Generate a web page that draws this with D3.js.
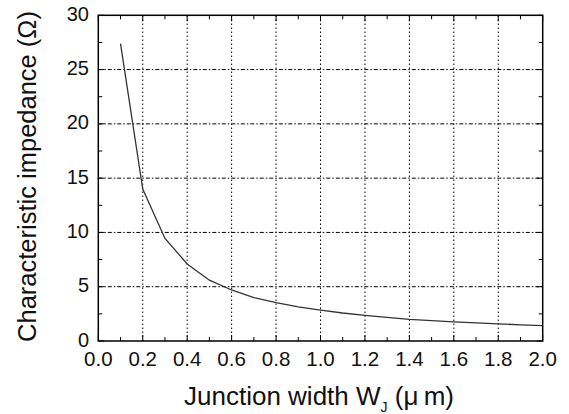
<!DOCTYPE html>
<html>
<head>
<meta charset="utf-8">
<script src="https://cdn.jsdelivr.net/npm/d3@7"></script>
<style>
  body { margin: 0; background: #fff; }
  svg { display: block; font-family: "Liberation Sans", Arial, sans-serif; }
</style>
</head>
<body>
<svg id="chart" width="569" height="414"></svg>
<script>
// junction width (um) and characteristic impedance (ohm)
const widths = [0.1, 0.2, 0.3, 0.4, 0.5, 0.6, 0.7, 0.8, 0.9, 1.0,
                1.1, 1.2, 1.3, 1.4, 1.5, 1.6, 1.7, 1.8, 1.9, 2.0];
const impedance = [27.4, 14.0, 9.45, 7.1, 5.6, 4.7, 4.0, 3.53, 3.15, 2.85,
                   2.58, 2.36, 2.17, 2.0, 1.88, 1.77, 1.67, 1.58, 1.49, 1.42];
const xTicks = [0.0, 0.2, 0.4, 0.6, 0.8, 1.0, 1.2, 1.4, 1.6, 1.8, 2.0];
const yTicks = [0, 5, 10, 15, 20, 25, 30];
const xMinor = [0.1, 0.3, 0.5, 0.7, 0.9, 1.1, 1.3, 1.5, 1.7, 1.9];
const yMinor = [2.5, 7.5, 12.5, 17.5, 22.5, 27.5];

const svg = d3.select("#chart");
const margin = {top: 15.3, right: 26.3, bottom: 73, left: 98.3};
const width = 569, height = 414;

const x = d3.scaleLinear().domain([0, 2]).range([margin.left, width - margin.right]);
const y = d3.scaleLinear().domain([0, 30]).range([height - margin.bottom, margin.top]);

// grid lines
svg.append("g")
    .selectAll("line")
    .data(xTicks.slice(1, -1))
    .join("line")
    .attr("x1", d => x(d)).attr("x2", d => x(d))
    .attr("y1", y(0)).attr("y2", y(30))
    .attr("stroke", "#000")
    .attr("stroke-width", 1)
    .attr("stroke-dasharray", "1.5,2.5");

svg.append("g")
    .selectAll("line")
    .data(yTicks.slice(1, -1))
    .join("line")
    .attr("x1", x(0)).attr("x2", x(2))
    .attr("y1", d => y(d)).attr("y2", d => y(d))
    .attr("stroke", "#000")
    .attr("stroke-width", 1)
    .attr("stroke-dasharray", "4,2,1.5,2");

// inward ticks on all four sides
const majorLen = 6, minorLen = 4;
const tickGroup = svg.append("g").attr("stroke", "#000").attr("stroke-width", 1);
[[xTicks, majorLen], [xMinor, minorLen]].forEach(([vals, len]) => {
    tickGroup.append("g").selectAll("line").data(vals).join("line")
        .attr("x1", d => x(d)).attr("x2", d => x(d))
        .attr("y1", y(0)).attr("y2", y(0) - len);
    tickGroup.append("g").selectAll("line").data(vals).join("line")
        .attr("x1", d => x(d)).attr("x2", d => x(d))
        .attr("y1", y(30)).attr("y2", y(30) + len);
});
[[yTicks, majorLen], [yMinor, minorLen]].forEach(([vals, len]) => {
    tickGroup.append("g").selectAll("line").data(vals).join("line")
        .attr("x1", x(0)).attr("x2", x(0) + len)
        .attr("y1", d => y(d)).attr("y2", d => y(d));
    tickGroup.append("g").selectAll("line").data(vals).join("line")
        .attr("x1", x(2)).attr("x2", x(2) - len)
        .attr("y1", d => y(d)).attr("y2", d => y(d));
});

// frame
svg.append("rect")
    .attr("x", x(0)).attr("y", y(30))
    .attr("width", x(2) - x(0)).attr("height", y(0) - y(30))
    .attr("fill", "none")
    .attr("stroke", "#000")
    .attr("stroke-width", 1.5);

// the curve
svg.append("path")
    .datum(widths.map((w, i) => [w, impedance[i]]))
    .attr("fill", "none")
    .attr("stroke", "#333")
    .attr("stroke-width", 1.3)
    .attr("d", d3.line().x(d => x(d[0])).y(d => y(d[1])));

// tick labels
svg.append("g")
    .selectAll("text")
    .data(xTicks)
    .join("text")
    .attr("x", d => x(d))
    .attr("y", 366)
    .attr("text-anchor", "middle")
    .attr("font-size", 20.5)
    .attr("fill", "#111")
    .text(d => d.toFixed(1));

svg.append("g")
    .selectAll("text")
    .data(yTicks)
    .join("text")
    .attr("x", 89)
    .attr("y", d => y(d) + 5.5)
    .attr("text-anchor", "end")
    .attr("font-size", 20)
    .attr("fill", "#111")
    .text(d => d);

// axis titles
const xTitle = svg.append("text")
    .attr("x", 319)
    .attr("y", 405)
    .attr("text-anchor", "middle")
    .attr("font-size", 26)
    .attr("fill", "#111");
xTitle.append("tspan").text("Junction width W");
xTitle.append("tspan").attr("font-size", 14).attr("dy", 7).text("J");
xTitle.append("tspan").attr("dy", -7).text(" (\u03bc\u2009m)");

svg.append("text")
    .attr("transform", `translate(36,176.5) rotate(-90)`)
    .attr("text-anchor", "middle")
    .attr("font-size", 25.5)
    .attr("fill", "#111")
    .text("Characteristic impedance (\u03a9)");
</script>
</body>
</html>
